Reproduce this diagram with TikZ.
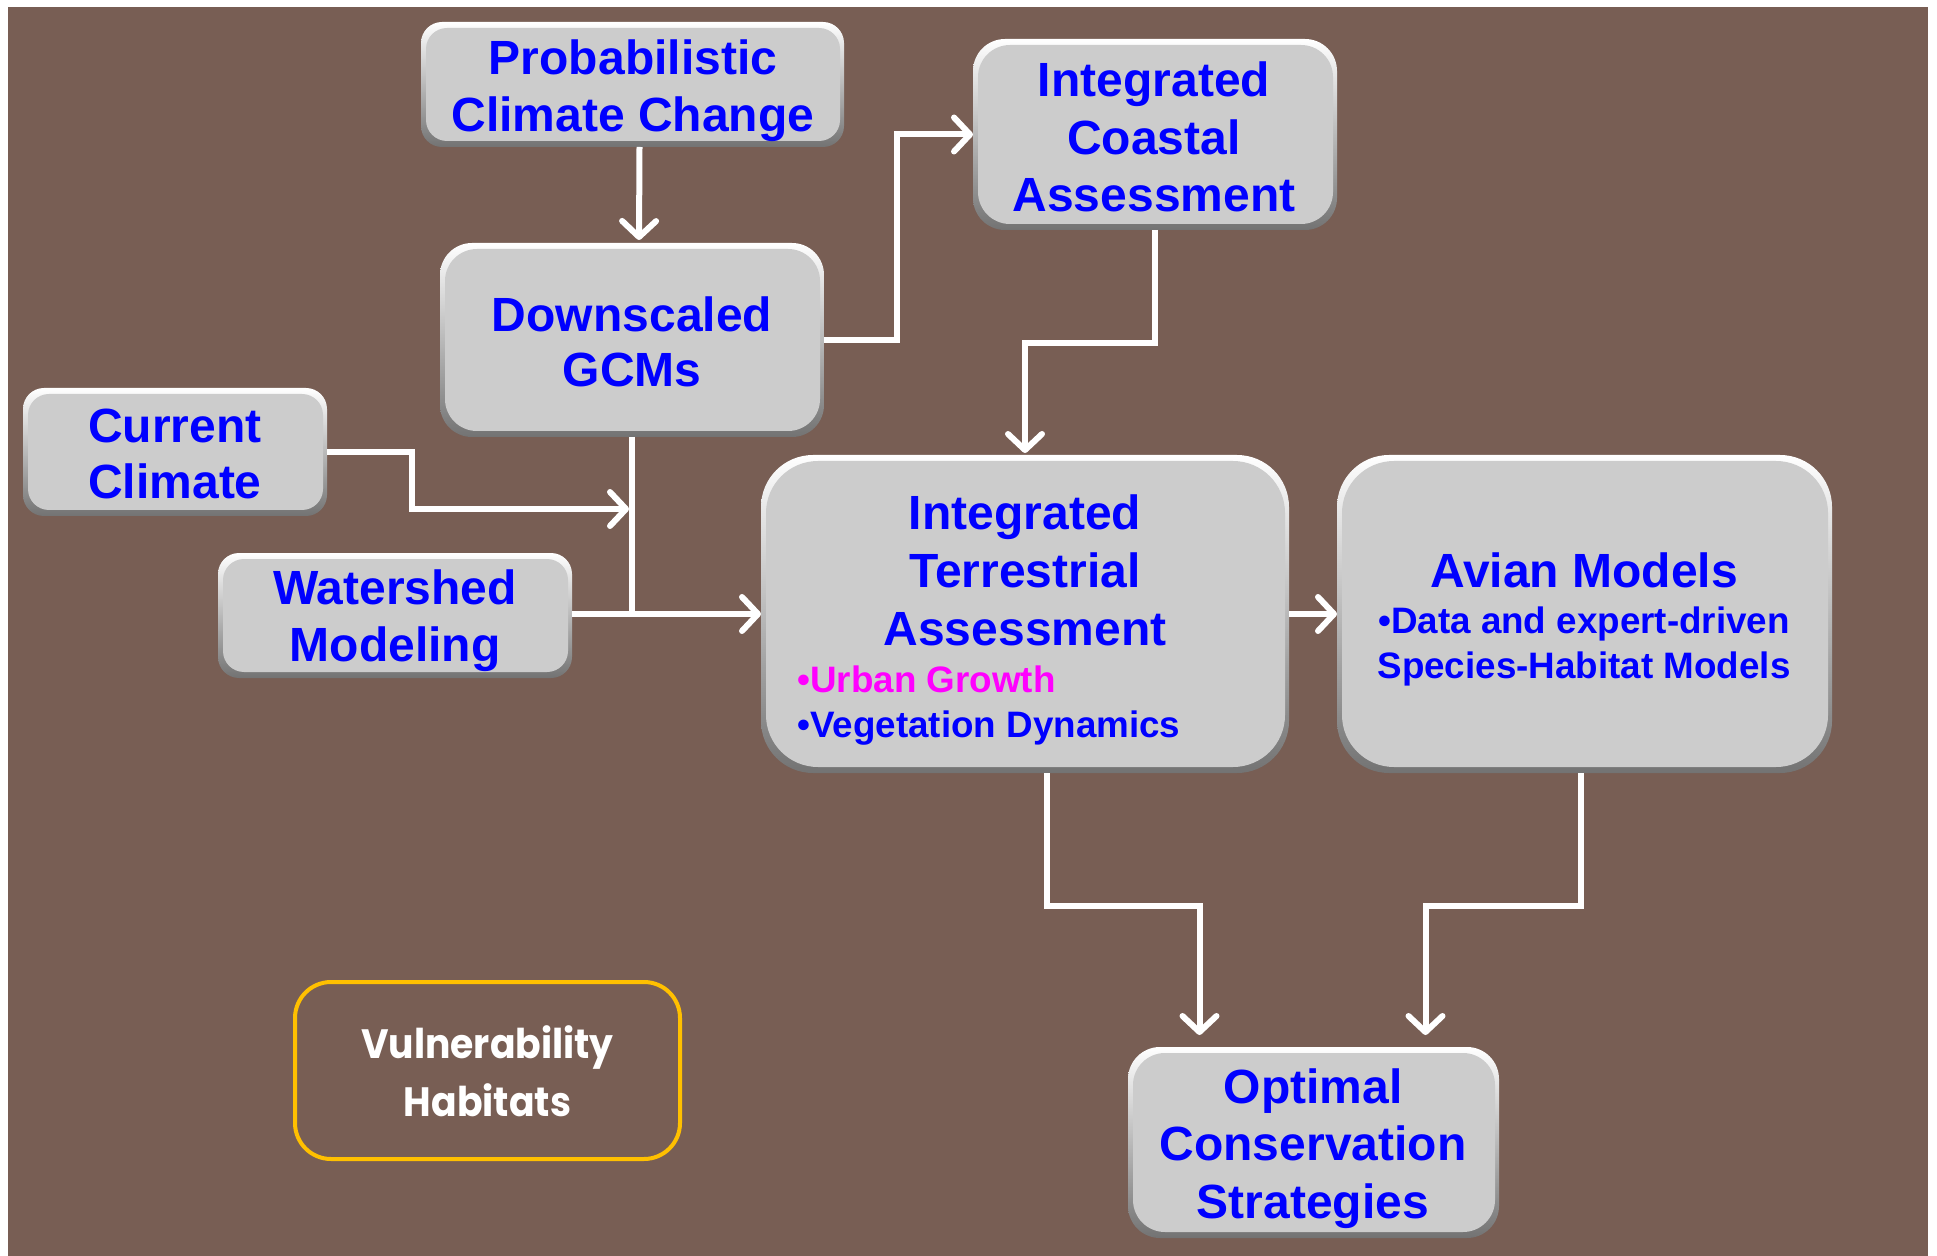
\documentclass[tikz,border=0pt]{standalone}
\usepackage{fontspec}
\setmainfont{Liberation Sans}
\newfontfamily\vulfont{Poppins}
\usetikzlibrary{arrows.meta,calc}
\definecolor{bgbrown}{RGB}{120,94,84}
\definecolor{boxgray}{RGB}{204,204,204}
\definecolor{txtblue}{RGB}{0,0,255}
\definecolor{txtmag}{RGB}{255,0,255}
\definecolor{vulorange}{RGB}{255,192,0}
\newcommand\bevelbox[2]{%
  \shade[rounded corners=#2, top color=white, middle color=black!22, bottom color=black!55]
    (#1.south west) rectangle (#1.north east);
  \fill[boxgray, rounded corners=#2]
    ([xshift=2.5pt,yshift=-3pt]#1.north west) rectangle ([xshift=-2pt,yshift=3pt]#1.south east);
}
\begin{document}
\begin{tikzpicture}[x=0.5pt,y=-0.5pt,
  boxn/.style={inner sep=0pt, outer sep=0pt},
  big/.style={anchor=base, inner sep=0pt, text=txtblue, font=\fontsize{24}{28}\selectfont\bfseries},
  small/.style={anchor=base, inner sep=0pt, text=txtblue, font=\fontsize{18.4}{22}\selectfont\bfseries},
  vultext/.style={anchor=base, inner sep=0pt, text=white, font={\vulfont\fontsize{20.5}{24}\selectfont\bfseries}},
  arr/.style={draw=white, line width=3pt, -{Straight Barb[length=8pt,width=17pt,round]}},
  link/.style={draw=white, line width=3pt}]
\useasboundingbox (0,0) rectangle (1937,1256);
\fill[white] (0,0) rectangle (1937,1256);
\fill[bgbrown] (8,7) rectangle (1928,1256);

% box nodes
\node[boxn, minimum width=211.5pt, minimum height=62.5pt] (prob) at (632.5,84.5) {};
\node[boxn, minimum width=192pt, minimum height=97pt] (down) at (632,340) {};
\node[boxn, minimum width=182pt, minimum height=95.5pt] (coast) at (1155,134.5) {};
\node[boxn, minimum width=152pt, minimum height=64pt] (cc) at (175,452) {};
\node[boxn, minimum width=177pt, minimum height=62.5pt] (ws) at (395,615.5) {};
\node[boxn, minimum width=264pt, minimum height=159pt] (ita) at (1025,614) {};
\node[boxn, minimum width=247.5pt, minimum height=159pt] (avian) at (1584.5,614) {};
\node[boxn, minimum width=185.5pt, minimum height=95.5pt] (opt) at (1313.5,1142.5) {};
\node[boxn, minimum width=192.5pt, minimum height=88.5pt, draw=vulorange, line width=2pt, rounded corners=18pt] (vul) at (487.5,1070.5) {};

\bevelbox{prob}{10.5pt}
\bevelbox{down}{16pt}
\bevelbox{coast}{16pt}
\bevelbox{cc}{10.5pt}
\bevelbox{ws}{10.5pt}
\bevelbox{ita}{26pt}
\bevelbox{avian}{26pt}
\bevelbox{opt}{16pt}

% texts
\node[big] (tp1) at (633,75) {Probabilistic};
\node[big] (tp2) at (633,132) {Climate Change};
\node[big] (td1) at (632,332) {Downscaled};
\node[big] (td2) at (632,387) {GCMs};
\node[big] (tc1) at (1154,97) {Integrated};
\node[big] (tc2) at (1154,155) {Coastal};
\node[big] (tc3) at (1154,212) {Assessment};
\node[big] (tcc1) at (175,443) {Current};
\node[big] (tcc2) at (175,499) {Climate};
\node[big] (tw1) at (395,604) {Watershed};
\node[big] (tw2) at (395,661) {Modeling};
\node[big] (ti1) at (1025,530) {Integrated};
\node[big] (ti2) at (1025,587) {Terrestrial};
\node[big] (ti3) at (1025,645) {Assessment};
\node[small, anchor=base west, text=txtmag] (ti4) at (797,692) {•Urban Growth};
\node[small, anchor=base west] (ti5) at (797,737) {•Vegetation Dynamics};
\node[big] (ta1) at (1584,587) {Avian Models};
\node[small] (ta2) at (1584,633) {•Data and expert-driven};
\node[small] (ta3) at (1584,678) {Species-Habitat Models};
\node[big] (to1) at (1313,1103) {Optimal};
\node[big] (to2) at (1313,1160) {Conservation};
\node[big] (to3) at (1313,1218) {Strategies};
\node[vultext] (tv1) at (487.5,1058) {\scalebox{0.92}[1]{Vulnerability}};
\node[vultext] (tv2) at (487.5,1116) {\scalebox{0.92}[1]{Habitats}};

% connectors
\coordinate (ccin) at ([xshift=-1.5pt]down.south |- 0,509);
\draw[arr] ([xshift=3.5pt]prob.south) -- ([xshift=3.5pt,yshift=1.5pt]down.north);
\draw[arr] (down.east) -- ++(73,0) |- (coast.west);
\draw[arr] (coast.south) -- ++(0,113) -| ([yshift=1pt]ita.north);
\draw[link] (down.south) -- ([yshift=-1.5pt]down.south |- ita.west);
\draw[arr] (cc.east) -- ++(85,0) |- (ccin);
\draw[arr] (ws.east |- ita.west) -- (ita.west);
\draw[arr] (ita.east) -- (avian.west);
\draw[arr] ([xshift=11pt]ita.south) -- ++(0,133) -| ([xshift=-57pt,yshift=6pt]opt.north);
\draw[arr] ([xshift=-2pt]avian.south) -- ++(0,133) -| ([xshift=56pt,yshift=6pt]opt.north);
\end{tikzpicture}
\end{document}
